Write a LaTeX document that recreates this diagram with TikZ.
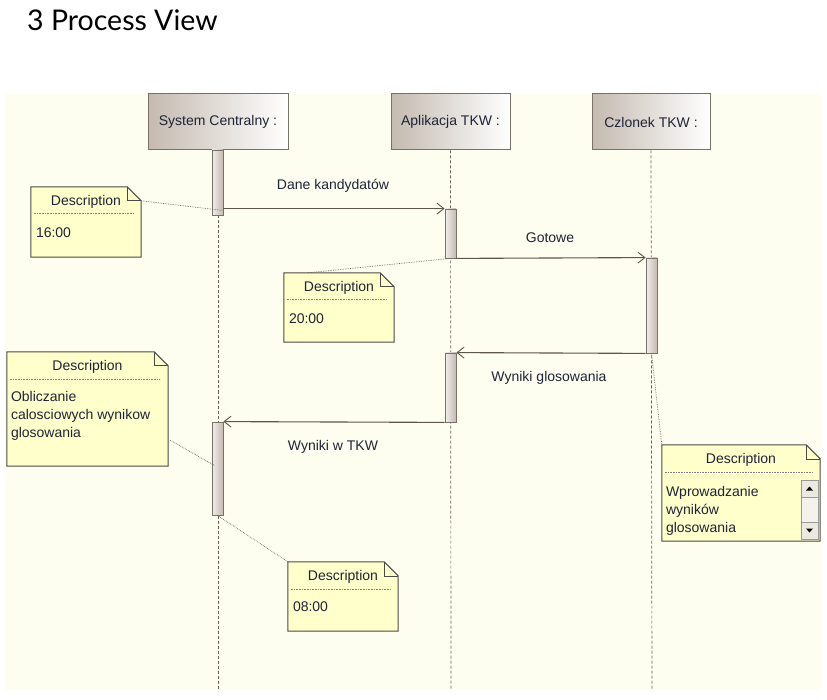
\documentclass[tikz,border=0pt]{standalone}
\usepackage{fontspec}
\setmainfont{Liberation Sans}
\newfontfamily\titlefont{Lato}
\usetikzlibrary{arrows.meta,calc}
\definecolor{bgcol}{HTML}{FEFEF0}
\definecolor{notefill}{HTML}{FFFFCC}
\definecolor{noteline}{HTML}{4A4A44}
\definecolor{headdark}{HTML}{C4BAB0}
\definecolor{headline}{HTML}{7A7068}
\definecolor{msgline}{HTML}{5E554D}
\definecolor{lifecol}{HTML}{6A625A}
\definecolor{txtcol}{HTML}{1E2436}
\definecolor{sbfill}{HTML}{ECE9E0}
\newcommand\notefold[1]{%
  \filldraw[fill=notefill, draw=noteline, line width=1pt]
    (#1.north west) -- ($(#1.north east)+(-14pt,0pt)$) -- ($(#1.north east)+(0pt,-14pt)$)
    -- (#1.south east) -- (#1.south west) -- cycle;
  \draw[noteline, line width=0.6pt] ($(#1.north east)+(-14pt,0pt)$) -- ($(#1.north east)+(-14pt,-14pt)$) -- ($(#1.north east)+(0pt,-14pt)$);
  \draw[notesep] ($(#1.north west)+(3pt,-27pt)$) -- ($(#1.north east)+(-8pt,-27pt)$);
  \node[ntitle] (#1t) at ($(#1.north)+(0pt,-19pt)$) {Description};
}
\begin{document}
\begin{tikzpicture}[x=1pt,y=-1pt,
  head/.style={draw=headline, line width=1pt, left color=headdark, right color=white,
    minimum height=56pt, inner sep=0pt, font=\fontsize{14}{16}\selectfont, text=txtcol},
  actbar/.style={draw=headline, line width=0.8pt, left color=white!75!headdark, right color=headdark,
    minimum width=11pt, inner sep=0pt},
  life/.style={draw=lifecol, line width=0.7pt, dash pattern=on 3pt off 2pt},
  msg/.style={draw=msgline, line width=1.1pt, -{Straight Barb[length=7pt,width=11pt,line width=0.9pt]}},
  lbl/.style={font=\fontsize{14}{16}\selectfont, text=txtcol, inner sep=0pt},
  notebox/.style={inner sep=0pt, draw=none},
  ntitle/.style={anchor=base, font=\fontsize{14}{16}\selectfont, text=txtcol, inner sep=0pt},
  nbody/.style={anchor=north west, align=left, font=\fontsize{14}{18}\selectfont, text=txtcol, inner sep=0pt},
  notesep/.style={draw=noteline!70, line width=0.6pt, densely dotted},
  notelink/.style={draw=noteline!85, line width=0.7pt, densely dotted}]
\useasboundingbox (0,0) rectangle (827,700);
\fill[white] (0,0) rectangle (827,700);
\fill[bgcol] (5,94) rectangle (821,690);
% title
\node[anchor=base west, inner sep=0pt, font=\titlefont\fontsize{28.5}{30}\selectfont] (title) at (27,31) {3 Process View};
% headers
\node[head, minimum width=140pt] (sc) at (218,122) {System Centralny :};
\node[head, minimum width=119pt] (ap) at (450.5,122) {Aplikacja TKW :};
\node[head, minimum width=118pt] (cz) at (651,122) {Czlonek TKW :};
\coordinate (scend) at (218,690);
\coordinate (apend) at (451,690);
\coordinate (czend) at (652,690);
\draw[life] (sc.south) -- (scend);
\draw[life] (ap.south) -- (apend);
\draw[life] (cz.south) -- (czend);
% activation bars
\node[actbar, minimum height=65pt] (sc1) at (217.5,182.5) {};
\node[actbar, minimum height=49pt] (ap1) at (450.5,233.5) {};
\node[actbar, minimum height=95pt] (cz1) at (651.5,305.5) {};
\node[actbar, minimum height=69pt] (ap2) at (450.5,387.5) {};
\node[actbar, minimum height=93pt] (sc2) at (217.5,468.5) {};
% messages
\draw[msg] (sc1.east |- ap1.north) -- (ap1.north west);
\draw[msg] (ap1.south east) -- (cz1.north west);
\draw[msg] (cz1.south west) -- (ap2.north east);
\draw[msg] (ap2.south west) -- (sc2.north east);
\node[lbl] (l1) at (333,186) {Dane kandydatów};
\node[lbl] (l2) at (550,238) {Gotowe};
\node[lbl] (l3) at (549,378) {Wyniki glosowania};
\node[lbl] (l4) at (333,447) {Wyniki w TKW};
% notes
\node[notebox, minimum width=110pt, minimum height=70pt] (n1) at (86,222) {};
\node[notebox, minimum width=110pt, minimum height=69pt] (n2) at (339,307.5) {};
\node[notebox, minimum width=161pt, minimum height=114pt] (n3) at (87.5,409) {};
\node[notebox, minimum width=158pt, minimum height=96pt] (n4) at (741,493) {};
\node[notebox, minimum width=110pt, minimum height=69pt] (n5) at (343,596.5) {};
\notefold{n1}
\notefold{n2}
\notefold{n3}
\notefold{n4}
\notefold{n5}
\node[nbody] (n1b) at ($(n1.north west)+(5pt,-41pt)$) {16:00};
\node[nbody] (n2b) at ($(n2.north west)+(5pt,-41pt)$) {20:00};
\node[nbody] (n3b) at ($(n3.north west)+(4pt,-39pt)$) {Obliczanie\\calosciowych wynikow\\glosowania};
\node[nbody] (n4b) at ($(n4.north west)+(4pt,-41pt)$) {Wprowadzanie\\wyników\\glosowania};
\node[nbody] (n5b) at ($(n5.north west)+(5pt,-40pt)$) {08:00};
% scroll bar in note n4
\node[inner sep=0pt, minimum width=17pt, minimum height=59pt, draw=gray!80, fill=sbfill!60] (sb) at (809.5,509.5) {};
\node[inner sep=0pt, minimum width=17pt, minimum height=17pt, anchor=north, draw=gray!80, fill=sbfill] (sbup) at (sb.north) {};
\node[inner sep=0pt, minimum width=17pt, minimum height=17pt, anchor=south, draw=gray!80, fill=sbfill] (sbdn) at (sb.south) {};
\fill[black] ($(sbup.center)+(-3.5pt,-2pt)$) -- ($(sbup.center)+(3.5pt,-2pt)$) -- ($(sbup.center)+(0pt,2pt)$) -- cycle;
\fill[black] ($(sbdn.center)+(-3.5pt,2pt)$) -- ($(sbdn.center)+(3.5pt,2pt)$) -- ($(sbdn.center)+(0pt,-2pt)$) -- cycle;
% note links
\draw[notelink] ($(n1.north east)+(0pt,-14pt)$) -- ($(sc1.south east)+(-1pt,5pt)$);
\draw[notelink] ($(n2.north west)+(24pt,0pt)$) -- (ap1.south);
\draw[notelink] ($(n3.south east)+(2pt,26pt)$) -- ($(sc2.north west)+(3pt,-44pt)$);
\draw[notelink] (cz1.south) -- (n4.north west);
\draw[notelink] (sc2.south) -- (n5.north west);
\end{tikzpicture}
\end{document}
